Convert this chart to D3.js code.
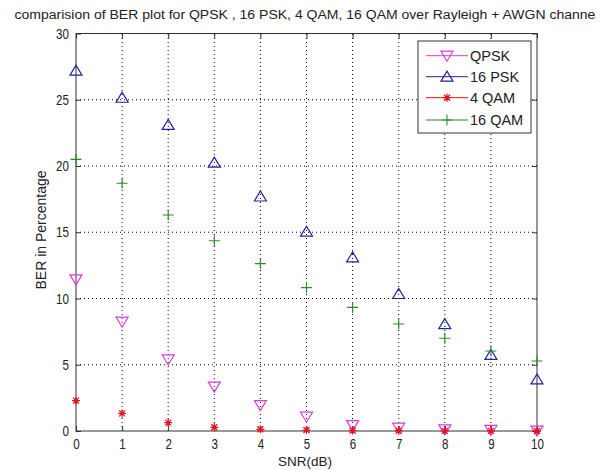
<!DOCTYPE html>
<html><head><meta charset="utf-8">
<script src="https://cdn.jsdelivr.net/npm/d3@7"></script>
<style>body{margin:0;background:#fff}svg{display:block}text{font-family:"Liberation Sans",Arial,sans-serif}</style>
</head><body>
<svg id="c" width="609" height="470"></svg>
<script>
const snr = [0,1,2,3,4,5,6,7,8,9,10];
const qpsk = [11.45,8.25,5.4,3.35,1.96,1.08,0.45,0.25,0.12,0.08,0.03];
const psk16 = [27.2,25.15,23.1,20.25,17.7,15.04,13.1,10.34,8.07,5.74,3.9];
const qam4 = [2.29,1.33,0.63,0.28,0.13,0.07,0.04,0.02,0.01,0.01,0.0];
const qam16 = [20.5,18.7,16.3,14.36,12.63,10.82,9.33,8.07,7.0,6.04,5.28];
const xTicks = [0,1,2,3,4,5,6,7,8,9,10];
const yTicks = [0,5,10,15,20,25,30];
const seriesNames = ["QPSK","16 PSK","4 QAM","16 QAM"];
const seriesColors = ["#d93ad9","#23239e","#e8101c","#2b8a2b"];
const seriesMarkers = ["tri-down","tri-up","star","plus"];
const titleText = "comparision of BER plot for QPSK , 16 PSK, 4 QAM, 16 QAM over Rayleigh + AWGN channel";

const series = [qpsk, psk16, qam4, qam16];
const svg = d3.select("#c");
const L=76,R=537,T=33.5,B=431;
const x = d3.scaleLinear().domain([0,10]).range([L,R]);
const y = d3.scaleLinear().domain([0,30]).range([B,T]);

svg.append("defs").append("clipPath").attr("id","tclip").append("rect")
 .attr("x",0).attr("y",0).attr("width",596).attr("height",30);

// grid
const g = svg.append("g");
g.selectAll(".vg").data(xTicks.slice(1,-1)).enter().append("line")
 .attr("x1",d=>x(d)).attr("x2",d=>x(d)).attr("y1",B).attr("y2",T)
 .attr("stroke","#000").attr("stroke-width",1).attr("stroke-dasharray","1,3");
g.selectAll(".hg").data(yTicks.slice(1,-1)).enter().append("line")
 .attr("y1",d=>y(d)).attr("y2",d=>y(d)).attr("x1",L).attr("x2",R)
 .attr("stroke","#000").attr("stroke-width",1).attr("stroke-dasharray","1,3");

// axes
const ax = d3.axisBottom(x).tickValues(xTicks).tickSize(-5).tickPadding(8).tickFormat(d3.format("d"));
const ay = d3.axisLeft(y).tickValues(yTicks).tickSize(-5).tickPadding(8).tickFormat(d3.format("d"));
const axT = d3.axisTop(x).tickValues(xTicks).tickSize(-5).tickFormat("");
const ayR = d3.axisRight(y).tickValues(yTicks).tickSize(-5).tickFormat("");
function style(sel){sel.select(".domain").remove();sel.selectAll("line").attr("stroke","#333");
  sel.selectAll("text").attr("font-size",14.5).attr("fill","#222").attr("font-family","Liberation Sans, Arial, sans-serif");}
svg.append("g").attr("transform",`translate(0,${B})`).call(ax).call(style)
 .selectAll("text").attr("transform","scale(0.8,1)");
svg.append("g").attr("transform",`translate(${L},0)`).call(ay).call(style)
 .selectAll("text").attr("x",-7/0.8).attr("transform","scale(0.8,1)");
svg.append("g").attr("transform",`translate(0,${T})`).call(axT).call(style);
svg.append("g").attr("transform",`translate(${R},0)`).call(ayR).call(style);
svg.append("rect").attr("x",L).attr("y",T).attr("width",R-L).attr("height",B-T)
 .attr("fill","none").attr("stroke","#333").attr("stroke-width",1);

// markers
function marker(sel,type,color){
  if(type==="tri-down") sel.append("path").attr("d","M-6,-4.5L6,-4.5L0,5.5Z").attr("fill","none").attr("stroke",color).attr("stroke-width",1.2);
  else if(type==="tri-up") sel.append("path").attr("d","M-6,4.5L6,4.5L0,-5.5Z").attr("fill","none").attr("stroke",color).attr("stroke-width",1.2);
  else if(type==="plus") sel.append("path").attr("d","M-5.5,0H5.5M0,-5.5V5.5").attr("stroke",color).attr("stroke-width",1.1);
  else if(type==="star") sel.append("path").attr("d","M-4,0H4M0,-4V4M-3,-3L3,3M-3,3L3,-3").attr("stroke",color).attr("stroke-width",1.3);
}
series.forEach((vals,i)=>{
  const gs = svg.append("g");
  vals.forEach((v,j)=>{
    const m = gs.append("g").attr("transform",`translate(${x(snr[j])},${y(v)})`);
    marker(m,seriesMarkers[i],seriesColors[i]);
  });
});

// legend
const lg = svg.append("g");
lg.append("rect").attr("x",418).attr("y",41).attr("width",113).attr("height",92).attr("fill","#fff").attr("stroke","#333");
const ly = [55.7,76.7,97.7,120];
seriesNames.forEach((n,i)=>{
  lg.append("line").attr("x1",426).attr("x2",468).attr("y1",ly[i]).attr("y2",ly[i]).attr("stroke",seriesColors[i]).attr("stroke-width",1);
  const m = lg.append("g").attr("transform",`translate(447,${ly[i]})`);
  marker(m,seriesMarkers[i],seriesColors[i]);
  lg.append("text").attr("x",470).attr("y",ly[i]+5).attr("font-size",14.5).attr("fill","#222").text(n);
});

// labels
svg.append("text").attr("clip-path","url(#tclip)").attr("x",306.5).attr("y",19).attr("text-anchor","middle").attr("font-size",12.5)
 .attr("fill","#222").attr("textLength",584).attr("lengthAdjust","spacingAndGlyphs").text(titleText);
svg.append("text").attr("x",305).attr("y",466).attr("text-anchor","middle").attr("font-size",13.5).attr("fill","#222").text("SNR(dB)");
svg.append("text").attr("transform","translate(46,230) rotate(-90)").attr("text-anchor","middle").attr("font-size",14).attr("fill","#222").text("BER in Percentage");
</script>
</body></html>
